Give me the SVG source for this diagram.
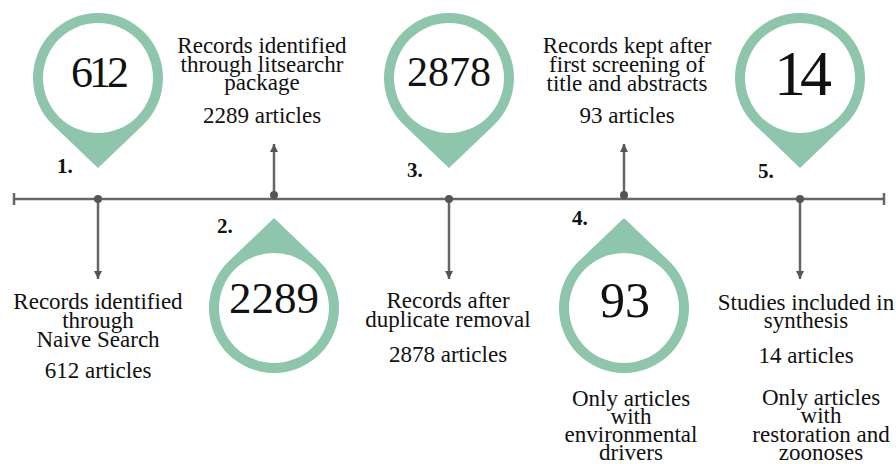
<svg xmlns="http://www.w3.org/2000/svg" width="896" height="464" viewBox="0 0 896 464">
<style>
.pin{fill:#8DC6AB}
.hole{fill:#ffffff}
.num{font-family:'Liberation Serif','DejaVu Serif',serif;fill:#111;text-anchor:middle}
.lbl{font-family:'Liberation Serif','DejaVu Serif',serif;font-size:23px;fill:#111;text-anchor:middle}
.step{font-family:'Liberation Serif','DejaVu Serif',serif;font-size:21px;font-weight:bold;fill:#111}
.ln{stroke:#666;stroke-width:2.5;fill:none}
.dot{fill:#555}
</style>
<defs>
<marker id="ah" viewBox="0 0 10 10" refX="10" refY="5" markerWidth="8" markerHeight="8" markerUnits="userSpaceOnUse" orient="auto">
<path d="M0,0 L10,5 L0,10 z" fill="#555"/>
</marker>
<g id="pinShape">
<path class="pin" d="M-45,46.9 L0,90 L45,46.9 A65,65 0 1 0 -45,46.9 Z"/>
<circle class="hole" cx="0" cy="0" r="55"/>
</g>
</defs>
<g id="connectors">
<line class="ln" x1="14" y1="199" x2="884" y2="199"/>
<line class="ln" x1="14" y1="193" x2="14" y2="205"/>
<line class="ln" x1="884" y1="193" x2="884" y2="205"/>
<line class="ln" x1="98" y1="199" x2="98" y2="279" marker-end="url(#ah)"/>
<circle class="dot" cx="98" cy="199" r="4"/>
<line class="ln" x1="274" y1="195" x2="274" y2="144" marker-end="url(#ah)"/>
<circle class="dot" cx="274" cy="195" r="4"/>
<line class="ln" x1="449" y1="199" x2="449" y2="279" marker-end="url(#ah)"/>
<circle class="dot" cx="449" cy="199" r="4"/>
<line class="ln" x1="624" y1="195" x2="624" y2="144" marker-end="url(#ah)"/>
<circle class="dot" cx="624" cy="195" r="4"/>
<line class="ln" x1="800" y1="199" x2="800" y2="279" marker-end="url(#ah)"/>
<circle class="dot" cx="800" cy="199" r="4"/>
</g>
<g id="step1">
<use href="#pinShape" transform="translate(98,78)"/>
<text class="num" x="98" y="87" font-size="44" letter-spacing="-4">612</text>
<text class="step" x="57" y="173">1.</text>
<text class="lbl"><tspan x="98" y="309">Records identified</tspan><tspan x="98" y="328">through</tspan><tspan x="98" y="347">Naive Search</tspan><tspan x="98" y="378">612 articles</tspan></text>
</g>
<g id="step2">
<use href="#pinShape" transform="translate(274,308) rotate(180)"/>
<text class="num" x="274" y="313" font-size="45">2289</text>
<text class="step" x="217" y="233">2.</text>
<text class="lbl"><tspan x="262" y="53">Records identified</tspan><tspan x="262" y="72">through litsearchr</tspan><tspan x="262" y="90">package</tspan><tspan x="262" y="123">2289 articles</tspan></text>
</g>
<g id="step3">
<use href="#pinShape" transform="translate(449,78)"/>
<text class="num" x="449" y="86" font-size="42">2878</text>
<text class="step" x="407" y="177">3.</text>
<text class="lbl"><tspan x="448" y="308">Records after</tspan><tspan x="448" y="327">duplicate removal</tspan><tspan x="448" y="362">2878 articles</tspan></text>
</g>
<g id="step4">
<use href="#pinShape" transform="translate(624,308) rotate(180)"/>
<text class="num" x="625" y="317" font-size="50">93</text>
<text class="step" x="572" y="225">4.</text>
<text class="lbl"><tspan x="627" y="53">Records kept after</tspan><tspan x="627" y="72">first screening of</tspan><tspan x="627" y="91">title and abstracts</tspan><tspan x="627" y="123">93 articles</tspan></text>
<text class="lbl"><tspan x="631" y="406">Only articles</tspan><tspan x="631" y="424">with</tspan><tspan x="631" y="442">environmental</tspan><tspan x="631" y="460">drivers</tspan></text>
</g>
<g id="step5">
<use href="#pinShape" transform="translate(800,78)"/>
<text class="num" x="800" y="95" font-size="64" letter-spacing="-6">14</text>
<text class="step" x="758" y="178">5.</text>
<text class="lbl"><tspan x="806" y="310">Studies included in</tspan><tspan x="806" y="328">synthesis</tspan><tspan x="806" y="363">14 articles</tspan></text>
<text class="lbl"><tspan x="821" y="405">Only articles</tspan><tspan x="821" y="423">with</tspan><tspan x="821" y="442">restoration and</tspan><tspan x="821" y="460">zoonoses</tspan></text>
</g>
</svg>
